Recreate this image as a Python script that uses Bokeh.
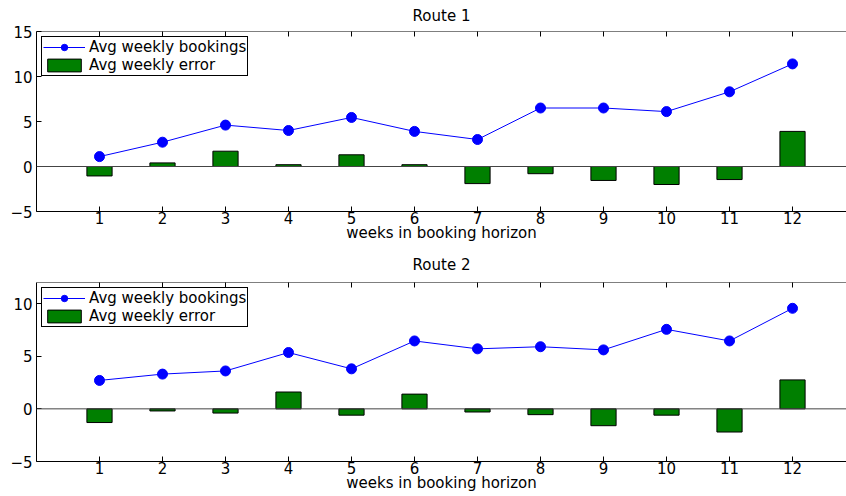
import math
from bokeh.plotting import figure
from bokeh.layouts import column
from bokeh.models import (Range1d, FixedTicker, LinearAxis, Span, Legend, LegendItem,
                          ColumnDataSource)
from bokeh.embed import file_html
from bokeh.resources import INLINE

weeks = [1, 2, 3, 4, 5, 6, 7, 8, 9, 10, 11, 12]
r1_bookings = [1.1, 2.7, 4.6, 4.0, 5.45, 3.9, 3.0, 6.5, 6.5, 6.1, 8.3, 11.4]
r1_error = [-1.05, 0.4, 1.7, 0.2, 1.3, 0.2, -1.9, -0.8, -1.55, -2.0, -1.45, 3.9]
r2_bookings = [2.7, 3.3, 3.6, 5.35, 3.8, 6.45, 5.7, 5.9, 5.6, 7.55, 6.45, 9.55]
r2_error = [-1.3, -0.2, -0.4, 1.6, -0.6, 1.4, -0.3, -0.55, -1.6, -0.6, -2.2, 2.75]
titles = ["Route 1", "Route 2"]
y_ranges = [(-5, 15), (-5, 12)]
y_ticks = [[-5, 0, 5, 10, 15], [-5, 0, 5, 10]]
x_label = "weeks in booking horizon"
legend_labels = ["Avg weekly bookings", "Avg weekly error"]

FONT = "DejaVu Sans"
FS = "15px"


def style_axis(ax, ticks):
    ax.ticker = FixedTicker(ticks=ticks)
    ax.axis_line_color = "black"
    ax.axis_line_width = 1
    ax.major_tick_line_color = "black"
    ax.major_tick_in = 5
    ax.major_tick_out = 0
    ax.minor_tick_line_color = None
    ax.major_label_text_font = FONT
    ax.major_label_text_font_size = FS
    ax.major_label_text_color = "black"


def make_fig(title, bookings, error, yr, yt, top_border, frame_h, bottom_border, title_standoff):
    p = figure(frame_width=810, frame_height=frame_h,
               x_range=Range1d(0, 12.857), y_range=Range1d(*yr),
               output_backend="svg", toolbar_location=None,
               min_border_left=36, min_border_right=0,
               min_border_top=top_border, min_border_bottom=bottom_border,
               x_axis_location=None, y_axis_location=None)
    p.outline_line_color = None
    p.xgrid.visible = False
    p.ygrid.visible = False
    p.background_fill_color = "white"
    p.border_fill_color = "white"

    p.title.text = title
    p.title.align = "center"
    p.title.vertical_align = "top"
    p.title.text_font = FONT
    p.title.text_font_size = FS
    p.title.text_font_style = "normal"
    p.title.text_color = "black"
    p.title.standoff = title_standoff

    left = LinearAxis()
    style_axis(left, yt)
    left.major_label_standoff = 4
    p.add_layout(left, "left")

    below = LinearAxis(axis_label=x_label)
    style_axis(below, weeks)
    below.major_label_standoff = 0
    below.axis_label_standoff = -3
    below.axis_label_text_font = FONT
    below.axis_label_text_font_size = FS
    below.axis_label_text_font_style = "normal"
    below.axis_label_text_color = "black"
    p.add_layout(below, "below")

    # top border of the box with inward ticks
    p.add_layout(Span(location=yr[1], dimension="width", line_color="black", line_width=1))
    p.scatter(x=weeks, y=[yr[1]] * len(weeks), marker="dash", angle=math.pi / 2,
              size=10, line_color="black", line_width=1)

    src = ColumnDataSource(dict(x=weeks, b=bookings, e=error))
    bars = p.vbar(x="x", top="e", bottom=0, width=0.4, source=src,
                  fill_color="#007f00", line_color="black", line_width=1)
    p.add_layout(Span(location=0, dimension="width", line_color="#444444", line_width=1))
    ln = p.line(x="x", y="b", source=src, line_color="#0000ff", line_width=1)
    mk = p.scatter(x="x", y="b", source=src, size=10, fill_color="#0000ff",
                   line_color="#0000ff", marker="circle")

    leg = Legend(items=[LegendItem(label=legend_labels[0], renderers=[ln, mk]),
                        LegendItem(label=legend_labels[1], renderers=[bars])],
                 location="top_left")
    leg.margin = 5
    leg.padding = 1
    leg.spacing = 0
    leg.glyph_width = 42
    leg.glyph_height = 16
    leg.label_height = 16
    leg.label_standoff = 4
    leg.label_text_font = FONT
    leg.label_text_font_size = FS
    leg.label_text_color = "black"
    leg.label_text_baseline = "middle"
    leg.border_line_color = "black"
    leg.border_line_width = 1
    leg.border_line_alpha = 1
    leg.background_fill_color = "white"
    leg.background_fill_alpha = 1
    p.add_layout(leg)
    return p


p1 = make_fig(titles[0], r1_bookings, r1_error, y_ranges[0], y_ticks[0], 31, 180, 34, 10)
p2 = make_fig(titles[1], r2_bookings, r2_error, y_ranges[1], y_ticks[1], 37, 179, 34, 14)
layout = column(p1, p2, spacing=0)

open("out.html", "w").write(file_html(layout, INLINE))
